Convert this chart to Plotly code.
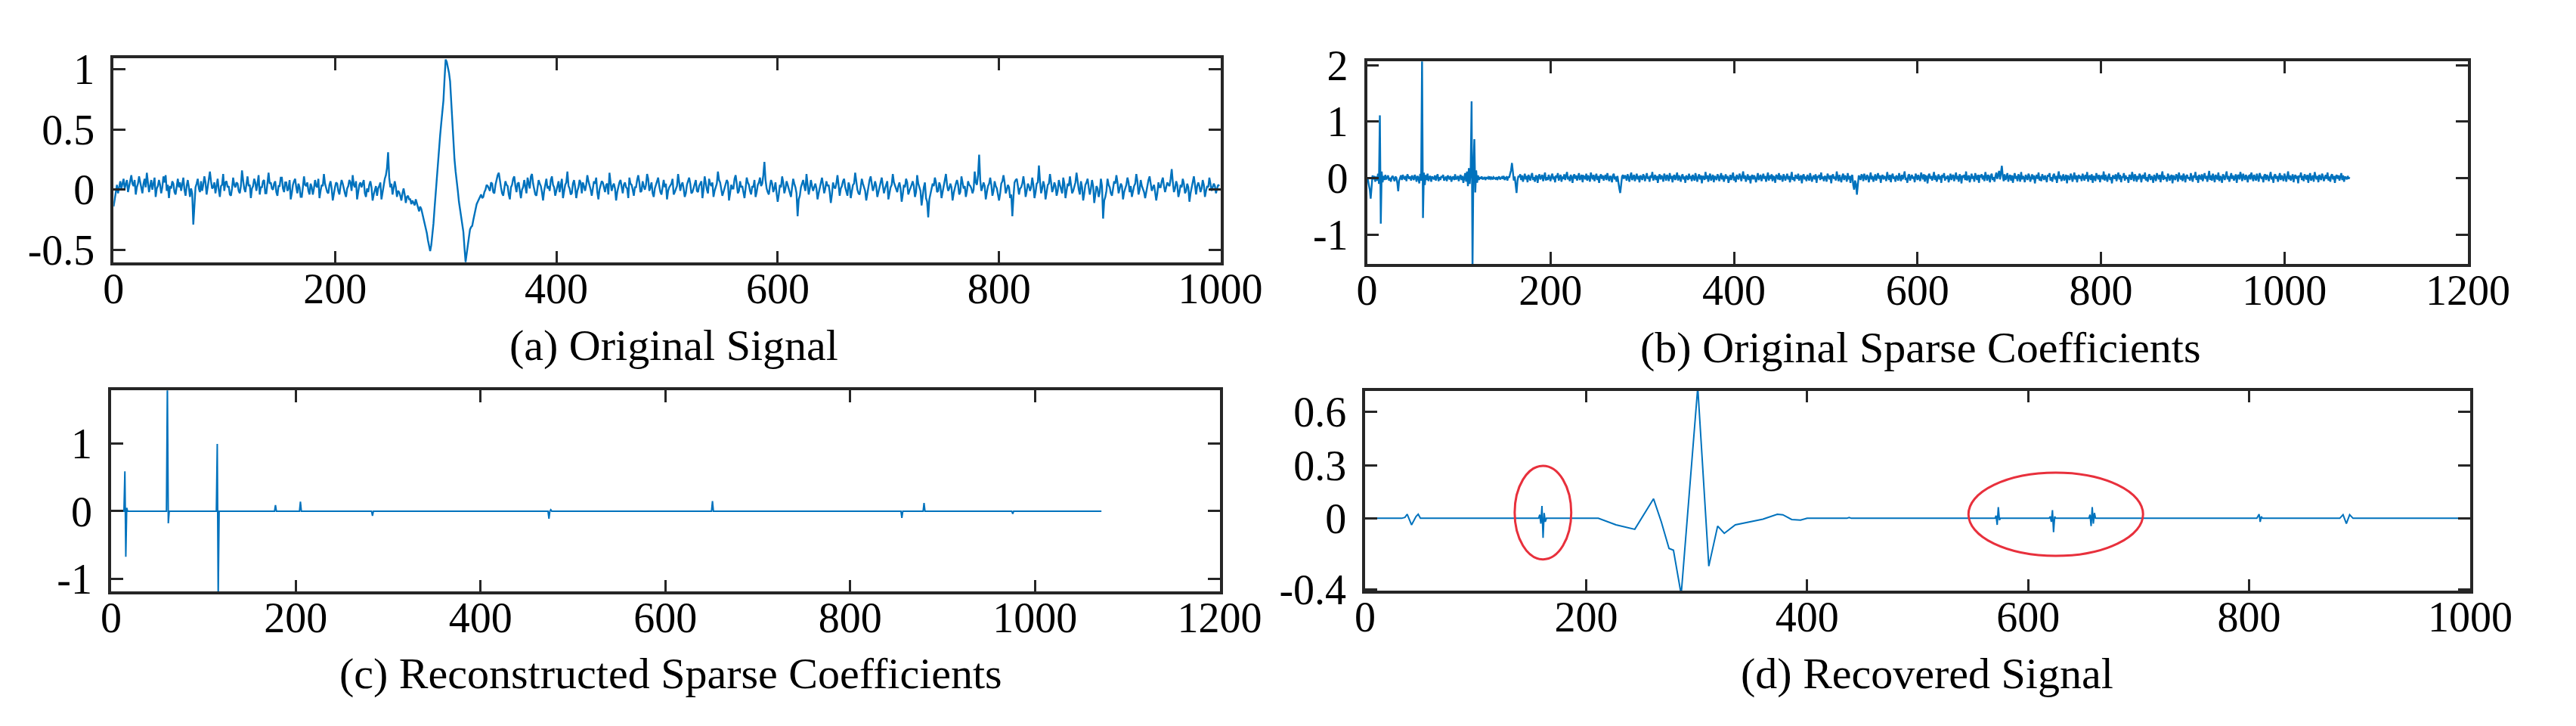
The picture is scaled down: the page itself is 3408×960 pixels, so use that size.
import plotly.graph_objects as go

# ---------------- data ----------------
# (a) Original signal, one value per sample (x = 0..999), values in hundredths
a_vals_x100 = [
    -14, -8, -2, 4, -3, 2, 7, 1, 5, 9, 1, 4, 8, -2, 3, 6, 12, 5, 3, 8,
    -4, 2, 5, 11, 7, 1, -3, 5, 9, 2, 14, 6, -2, 3, 8, 0, 5, 10, -6, 1,
    3, 8, 4, -3, 2, 11, 6, 12, -1, 4, -7, 3, 1, 7, 5, -2, -4, 3, 9, 2,
    6, -1, 4, 10, 0, -5, 3, 8, 2, -6, 1, -3, -29, -10, 2, 5, 9, 1, -2, 7,
    -1, 4, 11, 6, -4, 2, 8, 15, 7, 1, 2, 6, -3, 4, 9, 0, -6, 3, 4, 13,
    -1, 6, 7, 2, 3, -4, -5, 1, 10, 4, 2, 6, 5, -1, -3, 3, 16, 8, 1, -2,
    6, 11, 3, 4, -7, 1, 3, 9, 6, -1, 5, 12, -4, 2, 2, 7, 8, -3, -3, 4,
    14, 5, 6, 1, 0, 5, 7, -2, -5, 3, 3, 10, 10, 1, -2, 6, 6, -1, 1, 8,
    -8, -3, 4, 7, 9, 2, -3, 5, 2, -6, -6, 2, 11, 4, 3, 6, -1, -4, 5, 2,
    -4, 1, 8, 3, 2, 9, -7, -1, 4, 3, 13, 5, 1, -2, -3, 4, 7, 1, -9, -2,
    2, 6, 5, -1, -4, 3, 8, 5, 0, -3, -6, 1, 3, 8, 6, -1, 12, 4, 2, 7,
    -8, -2, 4, 6, 2, 5, 8, -3, -6, 1, -2, 4, 7, 2, -9, -4, 0, 3, -5, 1,
    3, 6, -8, -2, 6, 9, 12, 18, 31, 10, 2, 5, -4, 1, 7, 2, -6, -1, -2, -5,
    -9, -3, 1, -4, -11, -6, -5, -8, -8, -12, -9, -11, -13, -8, -11, -15, -18, -14, -16, -20,
    -24, -27, -31, -36, -42, -47, -51, -46, -38, -28, -15, -2, 10, 22, 35, 45, 55, 64, 74, 92,
    108, 106, 102, 97, 90, 73, 55, 40, 25, 15, 8, -1, -10, -17, -24, -30, -35, -48, -60, -53,
    -45, -38, -33, -31, -30, -25, -20, -16, -12, -10, -8, -5, -4, -7, -6, -2, 0, 4, 3, 1,
    -1, 6, 5, -2, -3, 4, 9, 12, 14, 6, 2, -3, -5, 1, 7, 4, 3, -4, -8, 2,
    4, 9, 11, 3, -2, 5, 6, -1, -7, 0, 2, 8, 3, -3, 10, 6, 1, 11, 13, 5,
    0, -4, -5, 2, 8, 5, 3, -2, -9, -1, 5, 9, 1, 3, -1, 8, 11, 4, 2, -5,
    -1, 4, 7, -2, 3, 9, -7, 0, 4, 6, 15, 3, 1, -4, -3, 5, 8, 2, -7, -1,
    2, 8, 6, -3, 6, 3, -1, 4, 12, 7, 4, 0, -5, 3, 7, 5, 10, -2, -8, 0,
    3, 7, 6, 1, -2, 4, 5, -4, 14, 6, -1, 3, 5, 1, -9, -2, 3, 6, 8, 1,
    -3, 4, 6, 2, 1, -7, 10, 5, 4, 0, -5, 2, 2, 8, 12, 6, -2, -1, 7, 3,
    0, 4, 13, 9, -1, 2, 6, -3, -6, 1, 4, 7, 10, 3, -2, -4, 3, 8, 2, 5,
    -8, -1, 2, 4, 5, 9, -4, -2, 1, 3, 13, 6, -1, 4, 6, 1, -6, -3, 4, 7,
    10, 5, -3, -2, 2, 6, 8, -1, -2, 3, 5, 7, -7, 0, 11, 4, 0, -3, 9, 5,
    3, 6, -6, -1, 2, 5, 15, 8, 6, 1, -5, -2, 2, 4, 8, 6, -9, -3, 4, 1,
    1, 9, 12, 5, -3, -1, 7, 2, 3, -2, -7, 1, 10, 6, 4, -1, -4, 3, 2, 8,
    -6, -2, 4, 6, 10, 3, 5, 12, 23, 8, 1, -2, -4, 3, 8, 5, -2, 1, 6, -3,
    -10, -4, 4, 2, 11, 6, -3, 1, 7, 4, 0, -2, -6, 2, 9, 5, 2, -3, -22, -8,
    -5, 2, 6, 8, 3, -1, 13, 5, -4, 1, 8, 3, -1, 2, 5, 1, -8, -3, 2, 6,
    10, 4, -3, 1, 7, 3, 4, -2, -11, -4, 6, 2, 1, 5, 12, 4, -5, 1, 3, 7,
    9, 2, -2, -5, 6, 3, -7, -1, 4, 5, 14, 7, 0, -3, -4, 2, 9, 5, 2, -1,
    -9, -3, 5, 8, 11, 4, -1, 2, 7, 3, -6, -2, 3, 6, 10, 2, -3, 1, 5, 7,
    -8, -3, 2, 4, 13, 6, 3, 1, -2, 3, 6, 1, -10, -4, 4, 2, 9, 6, -4, -1,
    1, 4, 7, 3, -6, -2, 12, 5, 2, -1, -13, -5, 2, 6, -7, -10, -23, -8, -3, 2,
    5, 3, 10, 6, -2, -1, 6, 3, -7, -2, 3, 6, 13, 4, -1, 1, 5, 2, -9, -3,
    2, 5, 8, 4, -4, -2, 11, 5, 1, 3, -6, -1, 7, 4, 3, 1, -3, 0, 15, 6,
    4, 12, 29, 8, -1, 2, 6, 3, -8, -2, 3, 5, 10, 4, -5, -1, 7, 3, 1, -4,
    -9, -3, 5, 7, 12, 6, -3, 0, 4, 2, -7, -4, -22, -6, 6, 8, 9, 3, -4, 1,
    2, 5, 11, 4, -6, -1, 5, 3, -1, 2, 10, 4, -7, -2, 5, 6, 20, 7, -3, 1,
    7, 3, -8, -2, 4, 5, 13, 6, -2, 1, 6, 3, -5, -1, 8, 4, 1, -3, 10, 5,
    -7, -2, 5, 3, 11, 4, -3, -1, 3, 6, 14, 5, 0, -4, 7, 2, -9, -3, 4, 6,
    9, 2, -4, 1, 8, 3, -11, -4, 3, 1, -6, -2, 9, 3, -24, -9, -6, -1, 9, 4,
    2, -3, -5, 1, 7, 5, 12, 6, -3, 1, 5, 3, -8, -2, 1, 4, 10, 6, -2, 3,
    -6, -1, 3, 5, 13, 7, -4, 0, 8, 3, 0, -2, -7, -1, 5, 8, 11, 5, -1, 2,
    4, -2, -9, -3, 6, 2, 2, 7, 10, 3, -2, 2, 6, 4, 3, 9, 17, 6, -2, 1,
    7, 4, -6, -2, 4, 2, 9, 5, -3, -1, 5, 2, -10, -3, 2, 6, 11, 4, -4, 3,
    6, 3, -2, 1, 8, 4, -6, -1, 3, 2, 10, 5, -1, 2, 5, 3, -3, 1, 4, 3,
]

# (b) Original sparse coefficients, one value per index (0..1071), values in hundredths
b_vals_x100 = [
    0, -3, -12, -20, -36, -8, 5, -2, 4, -6, 3, -4, 8, -10, 111, -80, 12, -7, 4, -3,
    6, -2, 3, 5, -4, 1, -6, 2, 4, -1, -5, 3, 1, -8, -23, -4, 2, 5, -3, 6,
    1, -2, 4, -5, 7, 2, -1, 3, -4, 5, 0, -3, 6, 2, -6, 4, 1, -9, 8, -4,
    210, -70, 10, -12, 6, -3, 8, -5, 2, 4, -6, 3, 1, -2, 5, -4, 3, 7, -5, 2,
    -3, 4, 1, 6, -4, -1, 3, -5, 5, 2, -2, 4, -6, 1, 3, -3, 7, -2, 0, 4,
    -5, 2, 6, -3, 4, -8, 3, 9, -6, 12, -14, 18, -10, 15, 136, -160, 22, 69, -25, 14,
    -8, 5, -3, 2, -1, 3, -2, 1, 2, -3, 1, 0, 2, -2, 3, -1, 1, -2, 2, 0,
    -1, 2, -3, 1, 3, -2, 0, 2, -1, 4, -3, 1, 2, -4, 3, 1, 8, 14, 27, 6,
    -4, 3, -12, -26, -5, 4, 2, 7, -3, 5, -6, 3, 8, -2, 4, -7, 6, 1, -4, 5,
    9, -3, 2, -6, 5, 3, -8, 4, 7, -2, 1, 6, -5, 3, 10, -4, 2, -3, 6, 1,
    -5, 4, 8, -2, 3, -7, 5, 1, 9, -4, 2, 6, -6, 3, -1, 7, -3, 4, 11, -2,
    3, -5, 6, 2, -8, 4, 7, -1, 5, -4, 2, 9, -3, 1, 6, -7, 4, 3, -2, 8,
    -4, 5, 1, -6, 10, 3, -2, 6, -5, 2, 8, -3, 4, -8, 3, 7, -1, 5, -4, 2,
    6, -3, 9, 1, -5, 4, 2, -7, 5, 8, -2, 3, -6, 4, -9, -18, -26, -10, 3, 6,
    -1, 5, 3, -4, 7, 2, -6, 4, 10, -3, 1, 6, -5, 3, 8, -2, 4, -7, 5, 2,
    -3, 7, 4, -5, 2, 9, -1, 3, -6, 5, 1, 11, -4, 2, 6, -3, 4, -8, 3, 7,
    -2, 5, 1, -6, 8, 3, -4, 6, 2, -5, 9, -1, 4, -7, 3, 6, -3, 2, 10, -4,
    5, 1, -6, 4, 7, -2, 3, -8, 5, 2, -3, 8, -1, 4, -5, 6, 2, -4, 9, 1,
    -6, 3, 7, -2, 5, -9, 4, 2, -3, 11, -1, 5, -6, 3, 8, -4, 2, 6, -7, 4,
    1, -3, 7, 4, -5, 2, 9, -2, 5, -6, 3, 7, -1, 4, -8, 2, 6, -3, 5, 10,
    -4, 3, -7, 6, 1, -2, 8, 4, -5, 3, 12, -1, 5, -6, 2, 7, -3, 4, -9, 3,
    6, -2, 5, 1, -7, 4, 9, -3, 2, 6, -5, 3, 8, -1, 4, -6, 2, 10, -4, 5,
    -1, 7, -5, 3, 2, -8, 6, 4, -2, 9, -3, 5, 1, -6, 7, 3, -4, 2, 8, -2,
    4, -7, 5, 11, -3, 2, -5, 6, 3, -1, 8, -4, 2, 5, -9, 4, 7, -2, 3, -5,
    6, 1, -4, 9, 3, -6, 2, 5, -2, 7, -8, 4, 1, 6, -3, 10, -1, 3, -5, 4,
    2, -6, 8, 3, -2, 5, -9, 4, 7, -1, 3, -4, 12, 2, -5, 6, 1, -7, 4, 8,
    -3, 5, 2, -6, 9, -2, 4, -8, 3, 6, -12, -20, -4, -10, -29, -6, 5, 2, -3, 7,
    4, -5, 8, 1, -3, 6, 3, -7, 5, 10, -2, 4, -6, 3, 7, -4, 2, 9, -1, 5,
    -8, 3, 6, -2, 4, 1, -5, 11, 2, -3, 6, -7, 4, 8, -1, 3, -6, 5, 2, -4,
    9, 3, -5, 6, -2, 4, 12, -3, 1, -8, 5, 7, -4, 2, 6, -1, 3, -7, 8, 4,
    -3, 6, 1, -5, 10, 2, -2, 7, -6, 4, 3, -9, 5, 8, -1, 4, -4, 2, 11, -3,
    5, -6, 3, 7, -2, 4, -8, 6, 1, 9, -4, 3, -1, 5, -7, 2, 8, -3, 4, 6,
    -5, 2, 10, -2, 4, -6, 7, 3, -9, 5, 1, 6, -3, 12, -4, 2, 5, -7, 3, 8,
    -1, 4, -6, 9, 2, -3, 6, -8, 4, 3, 7, -2, 5, -5, 11, 1, -4, 6, 3, -7,
    5, 8, -3, 2, -6, 4, 10, -1, 6, 13, -2, 15, 22, 4, -5, 7, -3, 2, 9, -6,
    3, 6, -4, 5, -8, 2, 9, -1, 4, -5, 7, 3, -6, 11, -2, 4, 1, -7, 6, 2,
    -3, 8, 4, -6, 3, 7, -2, 5, -9, 2, 6, -1, 10, -4, 3, -5, 7, 2, -3, 5,
    1, -7, 6, 3, 9, -4, 2, -6, 5, 8, -2, 4, -8, 3, 12, -1, 5, -5, 2, 7,
    -4, 3, 6, -9, 5, 1, -3, 8, 4, -6, 2, 10, -2, 5, -7, 3, 6, -1, 4, -5,
    8, 2, -4, 6, -1, 11, -6, 3, 5, -3, 7, -8, 4, 2, -5, 9, 1, -2, 6, -7,
    3, 5, -2, 12, -4, 6, 1, -6, 4, 8, -3, 2, -9, 5, 3, -1, 7, -5, 4, 10,
    -2, 6, -7, 3, 1, 9, -4, 5, -1, 2, -8, 6, 4, -3, 11, 2, -5, 7, 3, -6,
    4, -2, 8, 5, -7, 3, 6, -1, 10, -4, 2, -6, 5, 7, -3, 4, 1, -8, 6, 2,
    -5, 9, 3, -2, 6, -7, 4, 12, -3, 5, -1, 2, -6, 8, 4, -4, 3, 6, -9, 5,
    1, -3, 7, 4, -6, 10, 2, -2, 5, -5, 8, 3, -7, 4, 6, -1, 2, -4, 9, 3,
    -6, 5, 1, 11, -3, 4, -8, 6, 2, -2, 7, -5, 3, 9, -1, 4, -6, 2, 13, -3,
    5, -4, 8, 2, -7, 6, 3, -2, 10, -5, 4, 1, -8, 7, 3, -3, 5, 12, -2, 4,
    -6, 3, 9, -1, 5, -4, 2, 7, -8, 4, 6, -2, 11, 3, -5, 8, 1, -3, 6, 2,
    -7, 4, 5, -2, 10, 3, -5, 6, 1, -4, 8, 2, -6, 9, 4, -1, 3, -7, 5, 7,
    -3, 6, 2, -5, 4, 11, -2, 3, -8, 5, 7, -1, 4, -6, 2, 9, -3, 5, 1, -5,
    8, 3, -6, 4, 12, -2, 5, -4, 2, 7, -7, 3, 6, -1, 4, -9, 5, 2, 10, -3,
    4, -5, 7, 1, -2, 6, -8, 3, 9, -4, 2, 5, -6, 11, 3, -2, 4, -7, 6, 2,
    -3, 8, 4, -5, 2, 6, -1, 10, -4, 3, -6, 5, 7, -2, 4, -8, 3, 6, -1, 5,
    -4, 2, 9, -3, 5, -6, 3, 1, -2, 4, -1, 2,
]

# (c) Reconstructed sparse coefficients: zero except at these indices
c_length = 1072
c_spike_x = [15, 16, 17, 61, 62, 115, 116, 178, 205, 283, 474, 476, 651, 856, 880, 976]
c_spike_y = [0.59, -0.675, 0.05, 1.9, -0.18, 0.995, -1.3, 0.09, 0.14, -0.07, -0.11, 0.02, 0.15, -0.10, 0.12, -0.04]

# (d) Recovered signal
d_x = [0, 33, 36, 38, 42, 46, 48, 50,
       157, 158, 159, 160, 161, 162, 163, 164,
       211, 227, 244, 261, 268, 275, 279, 286, 301, 311, 319, 325, 335, 352, 360, 373, 378, 386, 394, 400,
       436, 438, 440,
       570, 571, 572, 573, 574, 575,
       619, 620, 621, 622, 623, 624, 625,
       655, 656, 657, 658, 659, 660, 661,
       807, 808, 809, 810, 811, 812,
       882, 885, 888, 891, 894, 1000]
d_y = [0, 0, 0.005, 0.023, -0.037, 0.01, 0.023, 0,
       0, 0.02, -0.03, 0.07, -0.11, 0.03, -0.02, 0,
       0, -0.037, -0.062, 0.11, -0.02, -0.17, -0.18, -0.43, 0.74, -0.27, -0.044, -0.085, -0.037, -0.017, -0.005, 0.023, 0.02, -0.007, -0.01, 0,
       0, 0.004, 0,
       0, 0.015, -0.037, 0.063, -0.01, 0,
       0, 0.01, -0.02, 0.046, -0.078, 0.01, 0,
       0, 0.02, -0.044, 0.063, -0.03, 0.03, 0,
       0, 0.01, 0.023, -0.02, 0.01, 0,
       0, 0.02, -0.03, 0.02, 0, 0]

# red ellipses in (d): [x0, x1, y0, y1]
ellipses_d = [[135.3, 186.5, -0.232, 0.296], [546, 704, -0.212, 0.258]]

titles = ["(a) Original Signal", "(b) Original Sparse Coefficients",
          "(c) Reconstructed Sparse Coefficients", "(d) Recovered Signal"]

a_xticks = [0, 200, 400, 600, 800, 1000]
a_yticks = [-0.5, 0, 0.5, 1]
a_yticklabels = ["-0.5", "0", "0.5", "1"]
b_xticks = [0, 200, 400, 600, 800, 1000, 1200]
b_yticks = [-1, 0, 1, 2]
b_yticklabels = ["-1", "0", "1", "2"]
c_xticks = [0, 200, 400, 600, 800, 1000, 1200]
c_yticks = [-1, 0, 1]
c_yticklabels = ["-1", "0", "1"]
d_xticks = [0, 200, 400, 600, 800, 1000]
d_yticks = [-0.4, 0, 0.3, 0.6]
d_yticklabels = ["-0.4", "0", "0.3", "0.6"]

# ---------------- figure ----------------
W, H = 3408, 960
BLUE = "#0072BD"
AXC = "#262626"
FONT = "Liberation Serif"

a_x = list(range(len(a_vals_x100)))
a_y = [v / 100 for v in a_vals_x100]
b_x = list(range(len(b_vals_x100)))
b_y = [v / 100 for v in b_vals_x100]
c_x = list(range(c_length + 1))
c_y = [0.0] * (c_length + 1)
for sx, sy in zip(c_spike_x, c_spike_y):
    c_y[sx] = sy

fig = go.Figure()
dense = dict(color=BLUE, width=2.4)
thin = dict(color=BLUE, width=2)
fig.add_trace(go.Scatter(x=a_x, y=a_y, mode="lines", line=dense, xaxis="x", yaxis="y"))
fig.add_trace(go.Scatter(x=b_x, y=b_y, mode="lines", line=dense, xaxis="x2", yaxis="y2"))
fig.add_trace(go.Scatter(x=c_x, y=c_y, mode="lines", line=thin, xaxis="x3", yaxis="y3"))
fig.add_trace(go.Scatter(x=d_x, y=d_y, mode="lines", line=thin, xaxis="x4", yaxis="y4"))


def px_dom_x(l, r):
    return [l / W, r / W]


def px_dom_y(t, b):
    return [1 - b / H, 1 - t / H]


common = dict(showline=True, linecolor=AXC, linewidth=3.5, mirror="ticks", ticks="inside",
              ticklen=16, tickwidth=3, tickcolor=AXC, showgrid=False, zeroline=False,
              tickfont=dict(family=FONT, size=56, color="black"))

panels = [
    # left, right, top, bottom, xrange, yrange, xticks, yticks, yticklabels
    (131, 1626, 47, 333, [0, 1000], [-0.605, 1.088], a_xticks, a_yticks, a_yticklabels),
    (1824, 3311, 51, 335, [0, 1200], [-1.515, 2.065], b_xticks, b_yticks, b_yticklabels),
    (127.5, 1625, 512, 794, [0, 1200], [-1.19, 1.786], c_xticks, c_yticks, c_yticklabels),
    (1821.5, 3314, 512.5, 793, [0, 1000], [-0.41, 0.72], d_xticks, d_yticks, d_yticklabels),
]

layout = dict(width=W, height=H, margin=dict(l=0, r=0, t=0, b=0),
              paper_bgcolor="white", plot_bgcolor="white", showlegend=False)
for k, (l, r, t, b, xr, yr, xt, yt, ytl) in enumerate(panels):
    sfx = "" if k == 0 else str(k + 1)
    layout["xaxis" + sfx] = dict(common, domain=px_dom_x(l, r), range=xr, tickvals=xt,
                                 ticktext=[str(v) for v in xt], anchor="y" + sfx,
                                 ticklabelstandoff=-17)
    layout["yaxis" + sfx] = dict(common, domain=px_dom_y(t, b), range=yr, tickvals=yt,
                                 ticktext=ytl, anchor="x" + sfx, ticklabelstandoff=10)
fig.update_layout(**layout)

title_pos = [(888, 449), (2571, 452), (884, 909), (2581, 909)]
for txt, (cx, cy) in zip(titles, title_pos):
    fig.add_annotation(text=txt, xref="paper", yref="paper", x=cx / W, y=1 - cy / H,
                       xanchor="center", yanchor="middle", showarrow=False,
                       font=dict(family=FONT, size=58, color="black"))

for x0, x1, y0, y1 in ellipses_d:
    fig.add_shape(type="circle", xref="x4", yref="y4", x0=x0, x1=x1, y0=y0, y1=y1,
                  line=dict(color="#E8303C", width=3))

fig.write_html("out.html")
